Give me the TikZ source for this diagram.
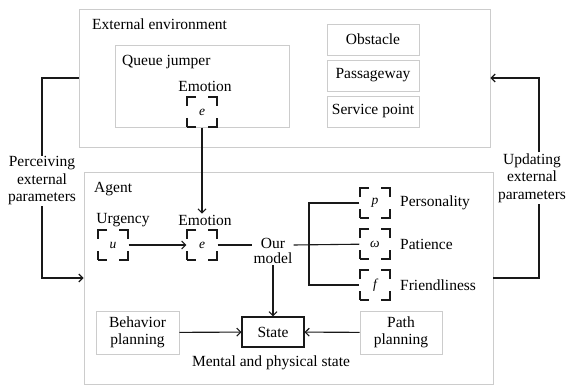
\documentclass[tikz,border=0pt]{standalone}
\usepackage{fontspec}
\setmainfont{Liberation Serif}
\usepackage{tikz}
\usetikzlibrary{arrows.meta, positioning}

\definecolor{framegray}{gray}{0.8}
\definecolor{inkgray}{gray}{0.1}

\begin{document}
\begin{tikzpicture}[
    x=1pt, y=-1pt,
    font=\fontsize{15.5}{17.5}\selectfont,
    lbl/.style={inner sep=1pt, align=center},
    gbox/.style={draw=framegray, line width=0.9pt, align=center, inner sep=2pt},
    box/.style={draw=inkgray, line width=1.1pt, align=center, inner sep=2pt},
    param/.style={draw=inkgray, line width=1.1pt, minimum size=30pt, inner sep=0pt,
                  dash pattern=on 18pt off 12pt, dash phase=9pt,
                  font=\fontsize{13.5}{15}\selectfont\itshape},
    arr/.style={-{Straight Barb[length=4pt, width=8pt]}, line width=1.1pt, draw=inkgray},
    wire/.style={line width=1.1pt, draw=inkgray}
]
\useasboundingbox (0,0) rectangle (573,385);

% external environment
\node[gbox, minimum width=411pt, minimum height=138pt] (ext) at (284.5,78) {};
\node[lbl, anchor=west] (extlbl) at (91,24) {External environment};
\node[gbox, minimum width=174pt, minimum height=82pt] (qj) at (202,86) {};
\node[lbl, anchor=west] (qjlbl) at (121,62) {Queue jumper};
\node[lbl] (emo1) at (205,86) {Emotion};
\node[param] (e1) at (202,112) {e};
\node[gbox, minimum width=92pt, minimum height=31pt] (obst) at (373,39.5) {Obstacle};
\node[gbox, minimum width=92pt, minimum height=31pt] (pass) at (373,75.5) {Passageway};
\node[gbox, minimum width=92pt, minimum height=31pt] (serv) at (373,111.5) {Service point};

% agent
\node[gbox, minimum width=409pt, minimum height=212pt] (agent) at (288.5,278) {};
\node[lbl, anchor=west] (agentlbl) at (93,189) {Agent};
\node[lbl] (urg) at (123,220) {Urgency};
\node[param] (u) at (113,245) {u};
\node[lbl] (emo2) at (205,220) {Emotion};
\node[param] (e2) at (202,245) {e};
\node[lbl, anchor=north] (model) at (273,237) {Our\\[-2pt]model};
\node[param] (p) at (375,203) {p};
\node[param] (w) at (375,244) {ω};
\node[param] (f) at (375,285) {f};
\node[lbl, anchor=west] (plbl) at (399,203) {Personality};
\node[lbl, anchor=west] (wlbl) at (399,244) {Patience};
\node[lbl, anchor=west] (flbl) at (399,285) {Friendliness};
\coordinate (fork) at (309,244);

\node[box, minimum width=62pt, minimum height=30pt] (state) at (273,332) {State};
\node[gbox, minimum width=83pt, minimum height=43pt] (beh) at (137.5,332.5) {Behavior\\planning};
\node[gbox, minimum width=82pt, minimum height=43pt] (path) at (401,332.5) {Path\\planning};
\node[lbl] (mental) at (271,363) {Mental and physical state};

% side labels
\node[lbl] (perc) at (42,181) {Perceiving\\external\\parameters};
\node[lbl] (upd) at (532,178) {Updating\\external\\parameters};

\draw[arr] (e1.south) -- (e1.south |- emo2.north);
\draw[arr] (u) -- (e2);
\draw[wire] (e2.east) -- (e2.east -| model.west);
\draw[wire] (e2.east -| model.east) -- (w);
\draw[wire] (p) -| (fork) |- (f);
\draw[arr] (model) -- (state);
\draw[arr] (beh) -- (state);
\draw[arr] (path) -- (state);

\draw[wire] (ext.west) -| (perc.north);
\draw[arr] (perc.south) |- (agent.west);
\draw[wire] (agent.east) -| ([xshift=7pt]upd.south);
\draw[arr] ([xshift=7pt]upd.north) |- (ext.east);
\end{tikzpicture}
\end{document}
